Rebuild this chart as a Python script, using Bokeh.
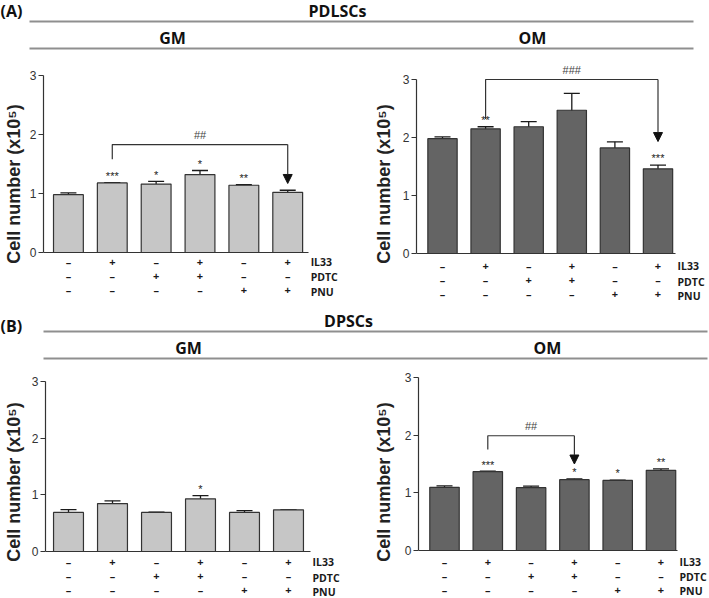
from bokeh.plotting import figure
from bokeh.models import (Range1d, FixedTicker, Arrow, NormalHead, Whisker,
                          TeeHead, ColumnDataSource)
from bokeh.layouts import column, row
from bokeh.embed import file_html
from bokeh.resources import INLINE
from bokeh.core.properties import value

# ---------------- data ----------------
conditions = [1, 2, 3, 4, 5, 6]
il33 = ["–", "+", "–", "+", "–", "+"]
pdtc = ["–", "–", "+", "+", "–", "–"]
pnu = ["–", "–", "–", "–", "+", "+"]
row_names = ["IL33", "PDTC", "PNU"]
y_ticks = [0, 1, 2, 3]
y_label = "Cell number (x10⁵)"

pdlsc_gm_mean = [0.98, 1.18, 1.16, 1.32, 1.14, 1.02]
pdlsc_gm_err = [0.03, 0.005, 0.045, 0.07, 0.01, 0.035]
pdlsc_gm_sig = ["", "***", "*", "*", "**", ""]

pdlsc_om_mean = [1.98, 2.15, 2.185, 2.47, 1.82, 1.46]
pdlsc_om_err = [0.03, 0.035, 0.09, 0.29, 0.105, 0.065]
pdlsc_om_sig = ["", "**", "", "", "", "***"]

dpsc_gm_mean = [0.69, 0.845, 0.69, 0.93, 0.69, 0.735]
dpsc_gm_err = [0.05, 0.05, 0.005, 0.055, 0.03, 0.005]
dpsc_gm_sig = ["", "", "", "*", "", ""]

dpsc_om_mean = [1.095, 1.367, 1.09, 1.228, 1.216, 1.39]
dpsc_om_err = [0.025, 0.008, 0.025, 0.015, 0.006, 0.025]
dpsc_om_sig = ["", "***", "", "*", "*", "**"]

# comparisons: (from condition, to condition, label, leg start, bracket level, arrow tip)
pdlsc_gm_cmp = (2, 6, "##", 1.58, 1.83, 1.17)
pdlsc_om_cmp = (2, 6, "###", 2.32, 3.0, 1.93)
dpsc_gm_cmp = None
dpsc_om_cmp = (2, 4, "##", 1.75, 1.99, 1.50)

LIGHT = "#c6c6c6"
DARK = "#646464"
EDGE = "#333333"
CALIBRI = "Open Sans"
ARIAL = "Liberation Sans"
Y_MAX = 3.0


def panel(mean, err, sig, cmp, fill, lay):
    # lay: pixel layout of the panel inside its own figure
    W, H = lay["W"], lay["H"]
    L, axis_r = lay["axis_x"], lay["axis_end"]
    y0, y3 = lay["y0"], lay["y3"]
    b1, pitch = lay["bar1"], lay["pitch"]
    ky = (y0 - y3) / Y_MAX
    x_start = 1 - (b1 - L) / pitch
    x_axis_end = x_start + (axis_r - L) / pitch
    x_end = x_start + (W - L) / pitch
    y_start = -(H - y0) / ky
    y_end = Y_MAX + y3 / ky

    p = figure(width=W, height=H,
               x_range=Range1d(x_start, x_end), y_range=Range1d(y_start, y_end),
               output_backend="svg", toolbar_location=None,
               min_border_left=L, min_border_right=0,
               min_border_top=0, min_border_bottom=0)
    p.outline_line_color = None
    p.grid.visible = False

    src = ColumnDataSource(dict(
        x=conditions, top=mean,
        upper=[m + e for m, e in zip(mean, err)],
        lower=[m - e for m, e in zip(mean, err)],
        sig=sig,
        sig_y=[m + e + 0.01 for m, e in zip(mean, err)],
    ))
    p.vbar(x="x", top="top", bottom=0, width=0.68, source=src,
           fill_color=fill, line_color=EDGE, line_width=1.2)
    p.add_layout(Whisker(base="x", upper="upper", lower="lower", source=src,
                         line_color="#1a1a1a", line_width=1.3,
                         upper_head=TeeHead(size=16, line_color="#1a1a1a", line_width=1.3),
                         lower_head=TeeHead(size=16, line_color="#1a1a1a", line_width=1.3)))
    p.text(x="x", y="sig_y", text="sig", source=src, text_align="center",
           text_baseline="bottom", text_font=value(ARIAL), text_font_size="11px",
           text_color="#222222")

    if cmp is not None:
        a, b, lab, leg, lvl, tip = cmp
        p.line(x=[a, a, b], y=[leg, lvl, lvl], line_color=EDGE, line_width=1.2)
        p.add_layout(Arrow(x_start=b, y_start=lvl, x_end=b, y_end=tip,
                           line_color=EDGE, line_width=1.2,
                           end=NormalHead(size=9, fill_color="#111111",
                                          line_color="#111111", line_width=1)))
        p.text(x=[(a + b) / 2], y=[lvl + 4 / ky], text=[lab],
               text_align="center", text_baseline="bottom",
               text_font=value(ARIAL), text_font_size="11px", text_color="#444444")

    # y axis
    ya = p.yaxis[0]
    ya.bounds = (0, Y_MAX)
    ya.ticker = FixedTicker(ticks=y_ticks)
    ya.minor_tick_line_color = None
    ya.major_tick_out = 5
    ya.major_tick_in = 0
    ya.major_label_standoff = 2
    ya.major_label_text_font = ARIAL
    ya.major_label_text_font_size = "12px"
    ya.major_label_text_color = "#333333"
    ya.axis_line_color = EDGE
    ya.axis_line_width = 1.2
    ya.major_tick_line_color = EDGE
    ya.major_tick_line_width = 1.2
    ya.axis_label = y_label
    ya.axis_label_text_font = ARIAL
    ya.axis_label_text_font_style = "bold"
    ya.axis_label_text_font_size = "18px"
    ya.axis_label_text_color = "#222222"
    ya.axis_label_standoff = lay["label_standoff"]

    # x axis at y = 0: treatment table as tick labels
    xa = p.xaxis[0]
    xa.fixed_location = 0
    xa.bounds = (x_start, x_axis_end)
    xa.ticker = FixedTicker(ticks=conditions)
    xa.major_label_overrides = {c: f"{a}\n{b}\n{d}" for c, a, b, d in zip(conditions, il33, pdtc, pnu)}
    xa.major_tick_line_color = None
    xa.minor_tick_line_color = None
    xa.major_tick_out = 0
    xa.major_tick_in = 0
    xa.major_label_standoff = lay["tick_standoff"]
    xa.major_label_text_font = CALIBRI
    xa.major_label_text_font_style = "bold"
    xa.major_label_text_font_size = "11px"
    xa.major_label_text_line_height = 0.94
    xa.major_label_text_color = "#1a1a1a"
    xa.axis_line_color = EDGE
    xa.axis_line_width = 1.2

    p.text(x=[x_axis_end + 2 / pitch] * 3, y=[-o / ky for o in lay["rows"]], text=row_names,
           text_align="left", text_baseline="middle",
           text_font=value(CALIBRI), text_font_style="bold",
           text_font_size="10.5px", text_color="#1a1a1a")
    return p


def header(height, tag, tag_y, title, title_x, title_y, x0, x1, line1_y,
           sub_y, gm_x, om_x, line2_y):
    h = figure(width=709, height=height, x_range=Range1d(0, 709),
               y_range=Range1d(height, 0), output_backend="svg",
               toolbar_location=None, min_border=0,
               x_axis_location=None, y_axis_location=None)
    h.outline_line_color = None
    h.grid.visible = False
    h.segment(x0=[x0, x0], y0=[line1_y, line2_y], x1=[x1, x1], y1=[line1_y, line2_y],
              line_color="#8f8f8f", line_width=2)
    h.text(x=[0], y=[tag_y], text=[tag], text_align="left", text_baseline="middle",
           text_font=value(CALIBRI), text_font_style="bold", text_font_size="16px",
           text_color="#111111")
    h.text(x=[title_x, gm_x, om_x], y=[title_y, sub_y, sub_y], text=[title, "GM", "OM"],
           text_align="center", text_baseline="middle",
           text_font=value(CALIBRI), text_font_style="bold", text_font_size="16px",
           text_color="#111111")
    return h


head_a = header(62, "(A)", 10, "PDLSCs", 337, 10, 29, 693, 21, 37, 172, 532, 48)
head_b = header(60, "(B)", 20, "DPSCs", 348, 15, 43, 707, 26, 42, 188, 547, 53)

lay_a_gm = dict(W=355, H=243, axis_x=42, axis_end=308, y0=190, y3=13, bar1=67, pitch=44,
                label_standoff=3, tick_standoff=1, rows=[9, 24, 39])
lay_a_om = dict(W=354, H=243, axis_x=61, axis_end=320, y0=191, y3=17, bar1=87, pitch=43.1,
                label_standoff=6, tick_standoff=4, rows=[12, 28, 42])
lay_b_gm = dict(W=355, H=233, axis_x=45, axis_end=310, y0=186, y3=16, bar1=68, pitch=44,
                label_standoff=5, tick_standoff=2, rows=[10.5, 26, 40.5])
lay_b_om = dict(W=354, H=233, axis_x=63, axis_end=322, y0=185, y3=12, bar1=89, pitch=43.3,
                label_standoff=8, tick_standoff=3, rows=[11, 26, 40.5])

pa_gm = panel(pdlsc_gm_mean, pdlsc_gm_err, pdlsc_gm_sig, pdlsc_gm_cmp, LIGHT, lay_a_gm)
pa_om = panel(pdlsc_om_mean, pdlsc_om_err, pdlsc_om_sig, pdlsc_om_cmp, DARK, lay_a_om)
pb_gm = panel(dpsc_gm_mean, dpsc_gm_err, dpsc_gm_sig, dpsc_gm_cmp, LIGHT, lay_b_gm)
pb_om = panel(dpsc_om_mean, dpsc_om_err, dpsc_om_sig, dpsc_om_cmp, DARK, lay_b_om)

layout = column(head_a, row(pa_gm, pa_om), head_b, row(pb_gm, pb_om))

open("out.html", "w").write(file_html(layout, INLINE))
